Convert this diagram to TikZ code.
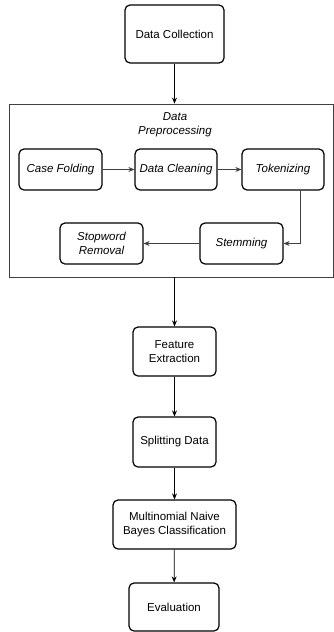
\documentclass[tikz,border=0pt]{standalone}
\usepackage{fontspec}
\setmainfont{Liberation Sans}
\usepackage{tikz}
\usetikzlibrary{arrows.meta}

\tikzset{
  stepbox/.style={draw,line width=1.2pt,rounded corners=5pt,align=center,inner sep=2pt},
  prepbox/.style={stepbox,font=\fontsize{11.5}{14}\selectfont\itshape},
  container/.style={draw=black!75,line width=0.8pt},
}

\begin{document}
\begin{tikzpicture}[x=1pt,y=-1pt,>={Stealth[length=6pt,width=5pt]},
  font=\fontsize{11.5}{14}\selectfont]
\useasboundingbox (0,0) rectangle (334,632);
%
\node[stepbox,minimum width=99,minimum height=58] (coll) at (174.5,34) {Data Collection};
%
\node[container,minimum width=324,minimum height=173] (prep) at (171,190.5) {};
\node[font=\fontsize{11.5}{14}\selectfont\itshape,align=center] (preplabel) at (175,125) {Data\\Preprocessing};
%
\node[prepbox,minimum width=83,minimum height=41] (fold) at (60.5,169.5) {Case Folding};
\node[prepbox,minimum width=82,minimum height=41] (clean) at (176,169.5) {Data Cleaning};
\node[prepbox,minimum width=82,minimum height=41] (token) at (283,169.5) {Tokenizing};
\node[prepbox,minimum width=83,minimum height=41] (stem) at (241.5,243.5) {Stemming};
\node[prepbox,minimum width=83,minimum height=41] (stop) at (101.5,243.5) {Stopword\\Removal};
%
\node[stepbox,minimum width=83,minimum height=49] (feat) at (174.5,351.5) {Feature\\Extraction};
\node[stepbox,minimum width=83,minimum height=50] (split) at (174.5,442) {Splitting Data};
\node[stepbox,minimum width=123,minimum height=49] (mnb) at (174.5,524.5) {Multinomial Naive\\Bayes Classification};
\node[stepbox,minimum width=90,minimum height=48] (eval) at (174,607) {Evaluation};
%
\coordinate (prepin) at (coll |- prep.north);
\coordinate (prepout) at (feat |- prep.south);
\path[->,line width=0.8pt] (coll) edge (prepin)
          (prepout) edge (feat)
          (feat) edge (split)
          (split) edge (mnb)
          (mnb) edge (eval)
;
\path[->,line width=0.8pt,black!75] (fold) edge (clean)
          (clean) edge (token)
          (stem) edge (stop)
;
\draw[->,line width=0.8pt,black!75] ([xshift=17pt]token.south) |- (stem.east);
\end{tikzpicture}
\end{document}
